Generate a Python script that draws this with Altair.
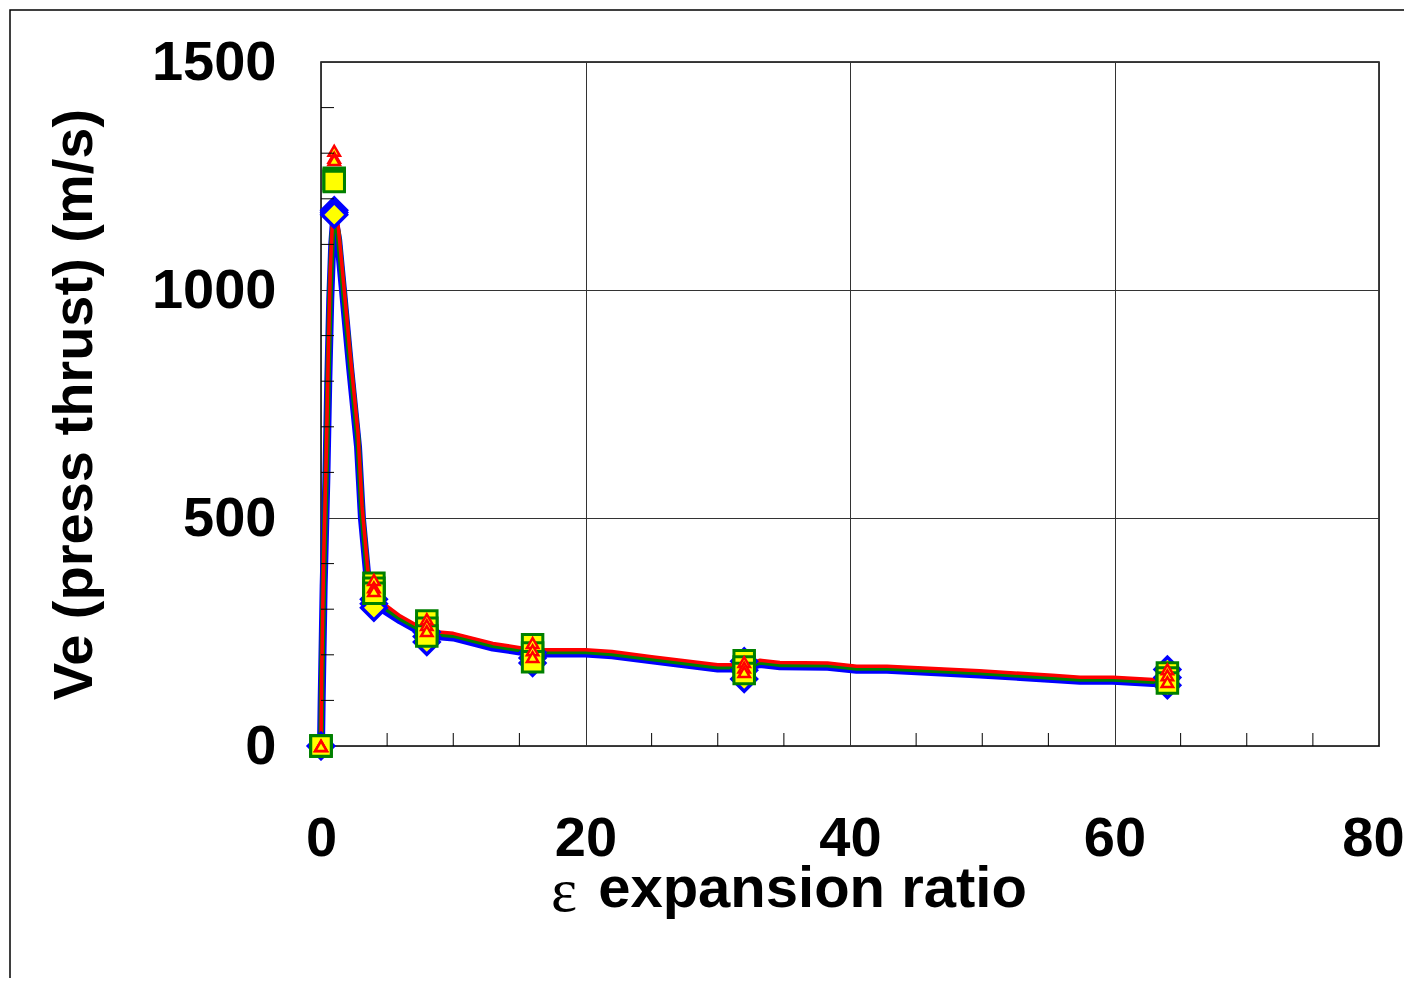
import altair as alt
import pandas as pd

# ---- line traces (epsilon vs Ve) ----
line_x = [0, 0.05, 0.2, 0.4, 0.55, 0.7, 0.85, 1.0, 1.3, 1.66, 2.2, 2.8, 3.1, 3.55, 4, 6, 8, 10, 13, 16,
          20, 22, 25, 30, 32, 33.2, 34.7, 38.3, 40.5, 42.8, 49.8, 55.3, 57.4, 59.9, 62.9, 64]
blue_line = [0, 100, 350, 580, 800, 980, 1100, 1160, 1110, 1000, 830, 656, 498, 357, 312, 275, 243, 238, 216, 203,
             203, 199, 188, 170, 170, 180, 175, 174, 167, 167, 157, 147, 143, 143, 138, 137]
green_line = [0, 130, 380, 610, 830, 1010, 1120, 1163, 1125, 1015, 845, 671, 512, 370, 320, 280, 248, 243, 221, 207,
              207, 203, 192, 174, 174, 184, 179, 178, 171, 171, 161, 151, 147, 147, 142, 141]
red_line = [0, 160, 410, 640, 860, 1040, 1140, 1165, 1140, 1030, 860, 686, 526, 383, 328, 285, 252, 247, 225, 211,
            211, 207, 196, 178, 178, 188, 183, 182, 175, 175, 165, 155, 151, 151, 146, 145]

# ---- marker series ----
marker_x = [0, 1, 4, 8, 16, 32, 64]
diamond_a = [0, 1175, 322, 250, 205, 186, 168]
diamond_b = [0, 1170, 312, 240, 193, 166, 150]
diamond_c = [0, 1165, 303, 228, 182, 147, 133]
square_a = [0, 1245, 357, 274, 222, 187, 160]
square_b = [0, 1241, 346, 258, 204, 173, 149]
square_c = [0, 1238, 335, 241, 185, 159, 138]
tri_a = [0, 1305, 364, 278, 226, 184, 168]
tri_b = [0, 1290, 348, 265, 210, 172, 155]
tri_c = [0, 1285, 340, 252, 195, 162, 140]

x_ticks = [0, 20, 40, 60, 80]
y_ticks = [0, 500, 1000, 1500]
x_minor = [5, 10, 15, 25, 30, 35, 45, 50, 55, 65, 70, 75]
y_minor = [100, 200, 300, 400, 600, 700, 800, 900, 1100, 1200, 1300, 1400]

W, H = 1058, 684
FONT = "Liberation Sans"

x_scale = alt.Scale(domain=[0, 80], nice=False, zero=False)
y_scale = alt.Scale(domain=[0, 1500], nice=False, zero=False)

x_axis = alt.Axis(values=x_ticks, format="d", grid=True, gridColor="#333333", gridWidth=1, ticks=False, tickSize=0,
                  domain=False, labelFont=FONT, labelFontSize=56, labelFontWeight="bold", labelColor="black",
                  labelPadding=92, labelBaseline="middle", labelFlush=False, labelOverlap=False, labelBound=False,
                  labelOffset={"condition": {"test": "datum.value == 80", "value": -6}, "value": 0},
                  title="expansion ratio", titleFont=FONT, titleFontSize=58, titleFontWeight="bold",
                  titleColor="black", titleX=491, titleY=160, titleBaseline="alphabetic")
y_axis = alt.Axis(values=y_ticks, format="d", grid=True, gridColor="#333333", gridWidth=1, ticks=False, tickSize=0,
                  domain=False, labelFont=FONT, labelFontSize=56, labelFontWeight="bold", labelColor="black",
                  labelPadding=45, labelBaseline="middle", labelFlush=False, labelOverlap=False, labelBound=False,
                  title="Ve (press thrust) (m/s)", titleFont=FONT, titleFontSize=56, titleFontWeight="bold",
                  titleColor="black", titleX=-230, titleBaseline="alphabetic", titleAngle=270)

X = alt.X("x:Q", scale=x_scale, axis=x_axis)
Y = alt.Y("y:Q", scale=y_scale, axis=y_axis)


def line_layer(ys, color, width):
    df = pd.DataFrame({"x": line_x, "y": ys})
    return alt.Chart(df).mark_line(color=color, strokeWidth=width, strokeJoin="round").encode(x=X, y=Y)


def marker_layer(series, shape, stroke, size, sw):
    rows = []
    for s, ys in enumerate(series):
        for xv, yv in zip(marker_x, ys):
            rows.append({"x": xv, "y": yv, "s": s})
    df = pd.DataFrame(rows)
    return alt.Chart(df).mark_point(shape=shape, filled=False, fill="#FFFF00", fillOpacity=1,
                                    stroke=stroke, strokeWidth=sw, size=size, opacity=1).encode(x=X, y=Y)


frame = alt.Chart(pd.DataFrame({"a": [0]})).mark_rect(fillOpacity=0, stroke="black", strokeWidth=1.5).encode(
    x=alt.value(-311), x2=alt.value(W + 300), y=alt.value(-52), y2=alt.value(H + 400))

yminor = alt.Chart(pd.DataFrame({"y": y_minor})).mark_rule(color="black", strokeWidth=1).encode(
    y=alt.Y("y:Q", scale=y_scale, axis=y_axis), x=alt.value(0), x2=alt.value(13))
xminor = alt.Chart(pd.DataFrame({"x": x_minor})).mark_rule(color="black", strokeWidth=1).encode(
    x=alt.X("x:Q", scale=x_scale, axis=x_axis), y=alt.value(H), y2=alt.value(H - 13))

eps = alt.Chart(pd.DataFrame({"t": ["ε"]})).mark_text(
    text="ε", font="Liberation Serif", fontSize=62, align="center", baseline="alphabetic", color="black"
).encode(x=alt.value(243), y=alt.value(849))

chart = alt.layer(
    frame,
    line_layer(blue_line, "#0000FF", 8),
    line_layer(green_line, "#008000", 5.5),
    line_layer(red_line, "#FF0000", 3.5),
    marker_layer([diamond_a, diamond_b, diamond_c], "diamond", "#0000FF", 600, 3.5),
    marker_layer([square_a, square_b, square_c], "square", "#008000", 420, 3),
    marker_layer([tri_a, tri_b, tri_c], "triangle-up", "#FF0000", 130, 2.5),
    yminor,
    xminor,
    eps,
).properties(
    width=W, height=H,
    autosize=alt.AutoSizeParams(type="none"),
    padding={"left": 313, "top": 54, "right": 25, "bottom": 232},
    background="white",
).configure_view(stroke="black", strokeWidth=1.5)

chart.save("out.html", embed_options={"renderer": "svg", "actions": False})
